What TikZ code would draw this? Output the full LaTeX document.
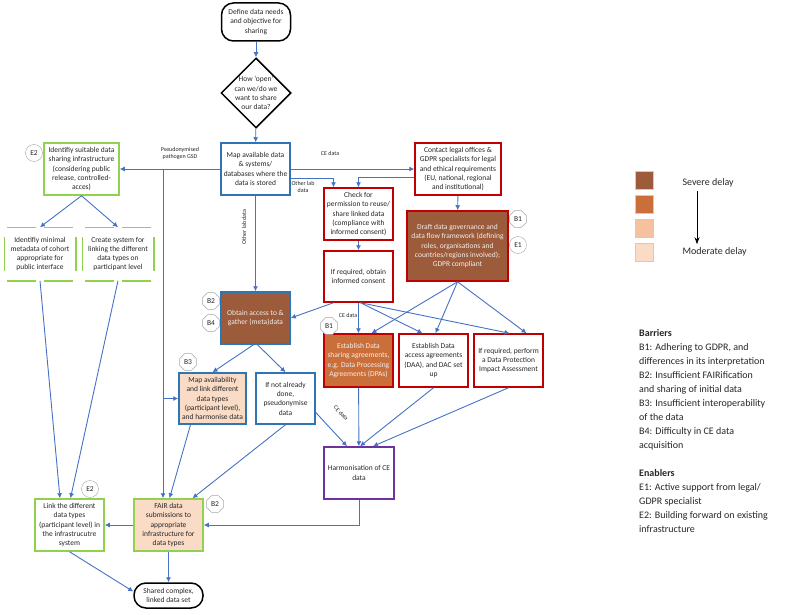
\documentclass[tikz,border=0pt]{standalone}
\usepackage{fontspec}
\setmainfont{Carlito}
\usetikzlibrary{arrows.meta,shapes.geometric}
\definecolor{flowblue}{HTML}{4472C4}
\definecolor{boxblue}{HTML}{2E75B6}
\definecolor{boxred}{HTML}{C00000}
\definecolor{boxgreen}{HTML}{92D050}
\definecolor{boxpurple}{HTML}{7030A0}
\definecolor{delayA}{HTML}{9C5B3A}
\definecolor{delayB}{HTML}{CB6F3A}
\definecolor{delayC}{HTML}{F6C19E}
\definecolor{delayD}{HTML}{FADBC5}
\definecolor{tagline}{HTML}{A6A6A6}
\definecolor{inktext}{HTML}{262626}

\begin{document}
\begin{tikzpicture}[x=1pt,y=-1pt,
  font=\fontsize{7.5}{9.3}\selectfont,
  box/.style={draw,line width=1.5pt,align=center,inner sep=1pt,text=inktext,
    minimum width=69pt,minimum height=52pt},
  bluebox/.style={box,draw=boxblue},
  redbox/.style={box,draw=boxred},
  greenbox/.style={box,draw=boxgreen},
  dashbox/.style={box,draw=none},
  terminal/.style={draw,line width=1.5pt,rounded corners=12pt,align=center,
    inner sep=1pt,text=inktext,minimum width=69pt},
  darktext/.style={text=white!94!black},
  tagB/.style={regular polygon,regular polygon sides=8,draw=tagline,fill=white,
    minimum size=18pt,inner sep=0pt,text=inktext},
  tagE/.style={circle,draw=tagline,fill=white,minimum size=17pt,inner sep=0pt,text=inktext},
  flow/.style={draw=flowblue,line width=.9pt,-{Latex[length=5pt,width=5pt]}},
  note/.style={font=\fontsize{6}{7}\selectfont,text=inktext,align=center,inner sep=1pt},
  greendash/.style={draw=boxgreen,line width=1.5pt},
  legsq/.style={minimum size=18pt,inner sep=0pt,draw=black!20},
  legtext/.style={anchor=west,font=\fontsize{10}{12}\selectfont,text=inktext}]
\useasboundingbox (0,0) rectangle (800,615);

% main column
\node[terminal,minimum height=38pt] (start) at (256,22) {Define data needs\\and objective for\\sharing};
\node[diamond,aspect=1,draw,line width=1.5pt,minimum size=70pt,inner sep=-6pt,align=center,text=inktext] (howopen) at (256,93) {How `open'\\can we/do we\\want to share\\our data?};
\node[bluebox] (mapdata) at (255.5,169) {Map available data\\\& systems/\\databases where the\\data is stored};
\node[redbox,minimum width=86pt] (contact) at (458,169) {Contact legal offices \&\\GDPR specialists for legal\\and ethical requirements\\(EU, national, regional\\and institutional)};
\node[greenbox,minimum width=75pt] (infra) at (81.5,169) {Identifiy suitable data\\sharing infrastructure\\(considering  public\\release,  controlled-\\acces)};
\node[redbox] (check) at (358.5,214) {Check for\\permission to reuse/\\share linked data\\(compliance with\\informed consent)};
\node[redbox,minimum height=51pt] (consent) at (358.5,276.5) {If required, obtain\\informed consent};
\node[redbox,fill=delayA,darktext,minimum width=101pt,minimum height=70pt] (draft) at (457.5,246) {Draft data governance and\\data flow framework (defining\\roles, organisations and\\countries/regions involved);\\GDPR compliant};
\node[bluebox,fill=delayA,darktext] (obtain) at (255.5,318) {Obtain access to \&\\gather (meta)data};
\node[redbox,fill=delayB,darktext,minimum height=53pt] (dsa) at (358.5,360.5) {Establish  Data\\sharing agreements,\\e.g. Data Processing\\Agreements (DPAs)};
\node[redbox,minimum height=53pt] (daa) at (433.5,360.5) {Establish Data\\access agreements\\(DAA), and DAC set\\up};
\node[redbox,minimum height=53pt] (dpia) at (508.5,360.5) {If required, perform\\a Data Protection\\Impact Assessment};
\node[bluebox,fill=delayD,minimum width=67pt,minimum height=51pt] (mapavail) at (212.5,398.5) {Map availability\\and link different\\data types\\(participant level),\\and harmonise data};
\node[bluebox,minimum width=59pt,minimum height=51pt] (pseudo) at (285.5,398.5) {If not already\\done,\\pseudonymise\\data};
\node[box,draw=boxpurple,minimum width=70pt] (harmon) at (359,473) {Harmonisation of CE\\data};
\node[greenbox,fill=delayD] (fair) at (168.5,525) {FAIR data\\submissions  to\\appropriate\\infrastructure for\\data types};
\node[greenbox] (link) at (69.5,525) {Link the different\\data types\\(participant level) in\\the infrastrucutre\\system};
\node[terminal,minimum height=25pt] (shared) at (168.5,595.5) {Shared complex,\\linked data set};
\node[dashbox,minimum width=70pt] (meta) at (40,254) {Identifiy minimal\\metadata of cohort\\appropriate for\\public interface};
\node[dashbox,minimum width=70pt] (linksys) at (118,254) {Create system for\\linking the different\\data types on\\participant level};
% broken green frames
\foreach \frm in {meta,linksys} {
  \draw[greendash] ([xshift=3pt]\frm.north west) -- ([xshift=-4pt]\frm.north)
                   ([xshift=4pt]\frm.north) -- ([xshift=-3pt]\frm.north east)
                   ([xshift=3pt]\frm.south west) -- ([xshift=-4pt]\frm.south)
                   ([xshift=4pt]\frm.south) -- ([xshift=-3pt]\frm.south east)
                   ([yshift=-10pt]\frm.north west) -- ([yshift=10pt]\frm.south west)
                   ([yshift=-10pt]\frm.north east) -- ([yshift=10pt]\frm.south east);
}

% barrier and enabler tags
\node[tagE] (infraE) at (34,153) {E2};
\node[tagB] (draftB) at (518,219) {B1};
\node[tagE] (draftE) at (518,245) {E1};
\node[tagB] (obtainB) at (211,301) {B2};
\node[tagB] (obtainBB) at (211,323) {B4};
\node[tagB] (dsaB) at (329,326) {B1};
\node[tagB] (mapavailB) at (188,362) {B3};
\node[tagB] (fairB) at (215,504) {B2};
\node[tagE] (linkE) at (90,489) {E2};

% connectors
\coordinate (gsd) at (163,169);
\draw[flow] (start) -- (howopen);
\draw[flow] (howopen) -- (mapdata);
\draw[flow] (mapdata.west) -- (infra.east);
\draw[flow] (gsd) -- (gsd |- fair.north);
\draw[flow] (gsd |- mapavail.west) -- (mapavail.west);
\draw[flow] (mapdata.east) -- (contact.west);
\draw[flow] ([yshift=-9pt]mapdata.east) -| ([xshift=-25pt]check.north);
\draw[flow] ([yshift=-8pt]contact.west) -| (check.north);
\draw[flow] (contact) -- (draft);
\draw[flow] (mapdata) -- (obtain);
\draw[flow] (check) -- (consent);
\draw[flow] ([xshift=-25pt]consent.south) -- (obtain.east);
\draw[flow] (consent.south) -- (dsa.north);
\draw[flow] ([xshift=2pt]consent.south) -- ([xshift=-11pt]daa.north);
\draw[flow] ([xshift=2pt]consent.south) -- ([xshift=1pt]dpia.north);
\draw[flow] (draft.south) -- ([xshift=13pt]dsa.north);
\draw[flow] (draft.south) -- ([xshift=2pt]daa.north);
\draw[flow] (draft.south) -- ([xshift=18pt]dpia.north);
\draw[flow] ([xshift=-2pt]obtain.south) -- (mapavail.north);
\draw[flow] ([xshift=2pt]obtain.south) -- (pseudo.north);
\draw[flow] (dsa) -- (harmon);
\draw[flow] (daa.south) -- ([xshift=1pt]harmon.north);
\draw[flow] (dpia.south) -- ([xshift=14pt]harmon.north);
\draw[flow] ([yshift=-14pt]pseudo.east) -- ([xshift=-12pt]harmon.north);
\draw[flow] (pseudo.south) -- ([xshift=24pt]fair.north);
\draw[flow] ([xshift=-22pt]mapavail.south) -- ([xshift=1pt]fair.north);
\draw[flow] (harmon.south) |- (fair.east);
\draw[flow] (fair.west) -- (link.east);
\draw[flow] (fair) -- (shared);
\draw[flow] (link.south) -- ([yshift=4pt]shared.west);
\draw[flow] (infra.south) -- (meta.north);
\draw[flow] (infra.south) -- (linksys.north);
\draw[flow] (meta.south) -- ([xshift=-9.5pt]link.north);
\draw[flow] (linksys.south) -- ([xshift=1pt]link.north);

% connector labels
\node[note] (gsdlab) at (180,153) {Pseudonymised\\pathogen GSD};
\node[note] (celab) at (330,153) {CE data};
\node[note] (otherlab) at (303,187) {Other lab\\data};
\node[note,rotate=90] (otherlabv) at (244,227) {Other lab data};
\node[note] (celabb) at (348,315) {CE data};
\node[note,rotate=-47] (celabc) at (341,413) {CE data};

% legend
\node[legsq,fill=delayA] (legA) at (644,180) {};
\node[legsq,fill=delayB] (legB) at (644,204) {};
\node[legsq,fill=delayC] (legC) at (644,228) {};
\node[legsq,fill=delayD] (legD) at (644,252) {};
\node[legtext] (severe) at (679,183) {Severe delay};
\node[legtext] (moderate) at (679,252) {Moderate delay};
\draw[-{Stealth[length=7pt,width=5pt]},line width=.7pt] ([xshift=18pt]severe.south west) -- ([xshift=18pt]moderate.north west);
\node[anchor=north west,align=left,inner sep=0pt,font=\fontsize{10}{14}\selectfont,text=inktext] (keytext) at (639,329)
  {\textbf{Barriers}\\B1: Adhering to  GDPR, and\\differences in its interpretation\\B2: Insufficient FAIRification\\and sharing of initial data\\B3: Insufficient interoperability\\of the data\\B4: Difficulty in CE data\\acquisition\\[14pt]\textbf{Enablers}\\E1: Active support from legal/\\GDPR specialist\\E2: Building forward on existing\\infrastructure};
\end{tikzpicture}
\end{document}
